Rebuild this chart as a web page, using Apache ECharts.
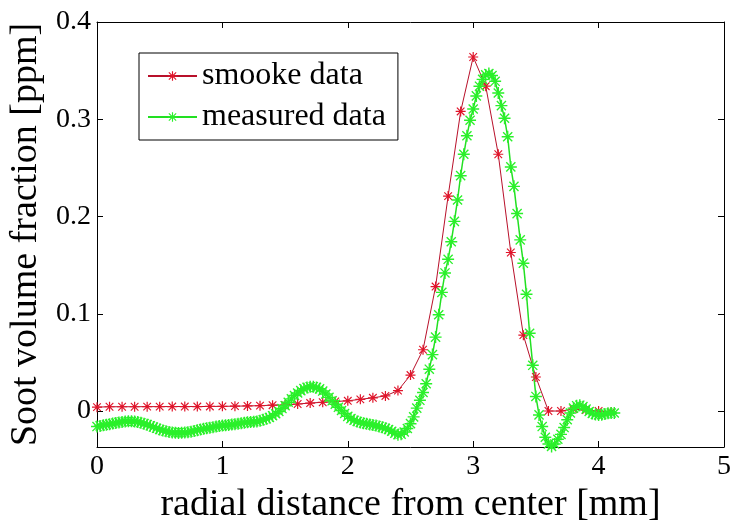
<!DOCTYPE html>
<html>
<head>
<meta charset="utf-8">
<script src="https://cdn.jsdelivr.net/npm/echarts@6/dist/echarts.min.js"></script>
<style>
  html, body { margin: 0; padding: 0; background: #fff; }
  #chart { width: 734px; height: 525px; }
</style>
</head>
<body>
<div id="chart"></div>
<script>
// smooke data: one point every 0.1 mm
const smookeStep = 0.1;
const smookeValues = [
  0.004, 0.0044, 0.0044, 0.0044, 0.0045, 0.0045, 0.0046, 0.0046, 0.0046, 0.0047,
  0.0048, 0.005, 0.0052, 0.0055, 0.006, 0.0062, 0.0072, 0.0082, 0.009, 0.0098,
  0.0105, 0.012, 0.0136, 0.0155, 0.021, 0.037, 0.063, 0.128, 0.221, 0.308,
  0.364, 0.334, 0.264, 0.163, 0.078, 0.035, 0.000, 0.000, 0.002, 0.001,
  0.000, -0.001
];

// measured data: one point every 0.025 mm
const measuredStep = 0.025;
const measuredValues = [
  -0.0160, -0.0153, -0.0147, -0.0141, -0.0135, -0.0129, -0.0123, -0.0117, -0.0112, -0.0108,
  -0.0105, -0.0105, -0.0108, -0.0114, -0.0121, -0.0130, -0.0140, -0.0152, -0.0165, -0.0178,
  -0.0190, -0.0200, -0.0208, -0.0215, -0.0220, -0.0224, -0.0225, -0.0224, -0.0222, -0.0218,
  -0.0212, -0.0205, -0.0197, -0.0190, -0.0183, -0.0177, -0.0171, -0.0166, -0.0160, -0.0155,
  -0.0150, -0.0146, -0.0143, -0.0139, -0.0135, -0.0130, -0.0125, -0.0120, -0.0115, -0.0112,
  -0.0110, -0.0108, -0.0100, -0.0090, -0.0080, -0.0066, -0.0048, -0.0028, -0.0005, 0.0025,
  0.0055, 0.0090, 0.0125, 0.0160, 0.0185, 0.0210, 0.0230, 0.0243, 0.0250, 0.0250,
  0.0243, 0.0228, 0.0205, 0.0175, 0.0140, 0.0105, 0.0070, 0.0038, 0.0005, -0.0025,
  -0.0055, -0.0078, -0.0095, -0.0108, -0.0118, -0.0126, -0.0132, -0.0138, -0.0143, -0.0150,
  -0.0158, -0.0167, -0.0177, -0.0190, -0.0208, -0.0228, -0.0243, -0.0238, -0.0215, -0.0180,
  -0.0130, -0.0060, 0.0030, 0.0110, 0.0190, 0.0280, 0.0430, 0.0580, 0.0760, 0.0990,
  0.1220, 0.1420, 0.1560, 0.1740, 0.1950, 0.2170, 0.2420, 0.2640, 0.2830, 0.2990,
  0.3105, 0.3240, 0.3340, 0.3410, 0.3456, 0.3470, 0.3450, 0.3390, 0.3270, 0.3140,
  0.3010, 0.2820, 0.2510, 0.2310, 0.2030, 0.1760, 0.1520, 0.1200, 0.0800, 0.0470,
  0.0150, -0.0040, -0.0160, -0.0270, -0.0340, -0.0365, -0.0340, -0.0290, -0.0240, -0.0170,
  -0.0090, -0.0020, 0.0030, 0.0055, 0.0060, 0.0045, 0.0020, -0.0005, -0.0025, -0.0035,
  -0.0040, -0.0038, -0.0030, -0.0022, -0.0020, -0.0020
];

const xTicks = [0, 1, 2, 3, 4, 5];
const yTicks = [0, 0.1, 0.2, 0.3, 0.4];

// MATLAB '*' marker
const starPath = "path://M0 4.4L10 4.4L10 5.6L0 5.6Z M4.4 0L5.6 0L5.6 10L4.4 10Z " +
  "M1.6 0.8L9.2 8.4L8.4 9.2L0.8 1.6Z M8.4 0.8L9.2 1.6L1.6 9.2L0.8 8.4Z";

const font = "Liberation Serif";
const toPairs = (vals, step) => vals.map((v, i) => [+(i * step).toFixed(3), v]);

const chart = echarts.init(document.getElementById("chart"));
chart.setOption({
  animation: false,
  backgroundColor: "#fff",
  grid: { left: 97, right: 10, top: 22, bottom: 78, outerBoundsMode: "none", containLabel: false },
  legend: {
    left: 139,
    top: 53,
    orient: "vertical",
    itemWidth: 49,
    itemHeight: 12,
    itemGap: 9,
    padding: [7, 12, 7, 8],
    borderColor: "#000",
    borderWidth: 1,
    backgroundColor: "#fff",
    selectedMode: false,
    textStyle: { fontFamily: font, fontSize: 32, color: "#000" },
    data: ["smooke data", "measured data"]
  },
  xAxis: [
    {
      type: "value", min: 0, max: 5, interval: 1,
      name: "radial distance from center [mm]",
      nameLocation: "middle", nameGap: 32,
      nameTextStyle: { fontFamily: font, fontSize: 38, color: "#000" },
      axisLine: { onZero: false, lineStyle: { color: "#000", width: 1 } },
      axisTick: { inside: true, length: 6, lineStyle: { color: "#000" } },
      axisLabel: { fontFamily: font, fontSize: 28, color: "#000", margin: 6 },
      splitLine: { show: false }
    },
    {
      type: "value", min: 0, max: 5, interval: 1, position: "top",
      axisLine: { onZero: false, lineStyle: { color: "#000", width: 1 } },
      axisTick: { inside: true, length: 6, lineStyle: { color: "#000" } },
      axisLabel: { show: false },
      splitLine: { show: false }
    }
  ],
  yAxis: [
    {
      type: "value", min: -0.037, max: 0.4,
      name: "Soot volume fraction [ppm]",
      nameLocation: "middle", nameGap: 40,
      nameTextStyle: { fontFamily: font, fontSize: 38, color: "#000" },
      axisLine: { onZero: false, lineStyle: { color: "#000", width: 1 } },
      axisTick: { inside: true, length: 6, customValues: yTicks, lineStyle: { color: "#000" } },
      axisLabel: { fontFamily: font, fontSize: 28, color: "#000", margin: 6, customValues: yTicks },
      splitLine: { show: false }
    },
    {
      type: "value", min: -0.037, max: 0.4, position: "right",
      axisLine: { onZero: false, lineStyle: { color: "#000", width: 1 } },
      axisTick: { inside: true, length: 6, customValues: yTicks, lineStyle: { color: "#000" } },
      axisLabel: { show: false },
      splitLine: { show: false }
    }
  ],
  series: [
    {
      name: "smooke data",
      type: "line",
      data: toPairs(smookeValues, smookeStep),
      symbol: starPath,
      symbolSize: 10,
      showAllSymbol: true,
      lineStyle: { color: "#b8102a", width: 1 },
      itemStyle: { color: "#e0142a" }
    },
    {
      name: "measured data",
      type: "line",
      data: toPairs(measuredValues, measuredStep),
      symbol: starPath,
      symbolSize: 12,
      showAllSymbol: true,
      lineStyle: { color: "#22e022", width: 1.5 },
      itemStyle: { color: "#2af02a" }
    }
  ]
});
</script>
</body>
</html>
